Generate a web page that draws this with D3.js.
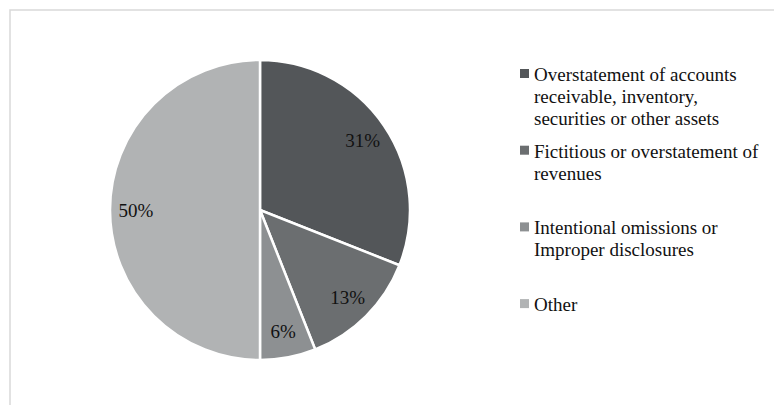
<!DOCTYPE html>
<html><head><meta charset="utf-8">
<script src="https://cdn.jsdelivr.net/npm/d3@7"></script>
<style>html,body{margin:0;padding:0;background:#fff;} text{font-family:"Liberation Serif","Times New Roman",Times,"DejaVu Serif",serif;}</style>
</head><body>
<svg id="chart" width="774" height="405"></svg>
<script>
const categories = [
  ["Overstatement of accounts", "receivable, inventory,", "securities or other assets"],
  ["Fictitious or overstatement of", "revenues"],
  ["Intentional omissions or", "Improper disclosures"],
  ["Other"]
];
const values = [31, 13, 6, 50];
const labels = ["31%", "13%", "6%", "50%"];
const colors = ["#535659", "#6b6e70", "#8d9092", "#b1b3b4"];

const svg = d3.select("#chart");

svg.append("rect").attr("x", 10).attr("y", 10).attr("width", 800).attr("height", 420)
  .attr("fill", "#fff").attr("stroke", "#d9d9d9").attr("stroke-width", 1.5);

const cx = 260, cy = 210, R = 150;
const pie = d3.pie().sort(null).value(d => d);
const arcs = pie(values);
const arc = d3.arc().innerRadius(0).outerRadius(R);
const labelArc = d3.arc().innerRadius(124).outerRadius(124);

const g = svg.append("g").attr("transform", `translate(${cx},${cy})`);
g.selectAll("path").data(arcs).join("path")
  .attr("d", arc)
  .attr("fill", (d, i) => colors[i])
  .attr("stroke", "#fff").attr("stroke-width", 2.5).attr("stroke-linejoin", "miter");

g.selectAll("text").data(arcs).join("text")
  .attr("transform", d => `translate(${labelArc.centroid(d)})`)
  .attr("text-anchor", "middle").attr("dy", "0.35em")
  .attr("font-size", 19).attr("fill", "#111")
  .text((d, i) => labels[i]);

const lg = svg.append("g");
const y0 = 81, slot = 76.7, lh = 22;
categories.forEach((lines, i) => {
  const by = y0 + i * slot;
  lg.append("rect").attr("x", 520).attr("y", by - 12).attr("width", 9).attr("height", 9)
    .attr("fill", colors[i]);
  const t = lg.append("text").attr("font-size", 19).attr("fill", "#111");
  lines.forEach((ln, j) => {
    t.append("tspan").attr("x", 534).attr("y", by + j * lh).text(ln);
  });
});
</script>
</body></html>
